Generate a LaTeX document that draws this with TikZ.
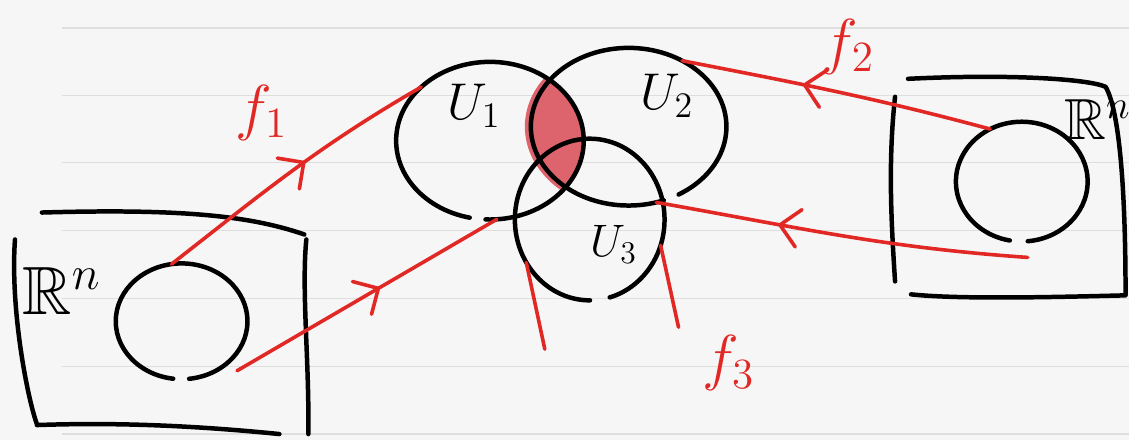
\documentclass[tikz,border=0pt]{standalone}
\usepackage{amsmath, amssymb}
\usepackage{xcolor}
\usepackage{tikz}
\usetikzlibrary{arrows.meta, shapes.geometric, decorations.markings, backgrounds}

\definecolor{mapred}{RGB}{226,40,36}
\definecolor{overlap}{RGB}{221,99,108}
\definecolor{paper}{RGB}{246,246,246}
\definecolor{ruling}{RGB}{222,222,222}

\begin{document}
\begin{tikzpicture}[x=1pt, y=1pt,
  ink/.style={line width=4.5pt, line cap=round, line join=round},
  blob/.style={ellipse, draw, ink, inner sep=0pt, outer sep=0pt},
  fmap/.style={draw=mapred, line width=3.6pt, line cap=round},
  midarrow/.style={postaction={decorate}, decoration={markings,
      mark=at position #1 with {\arrow[mapred]{Straight Barb[length=19pt, width=38pt, line width=3.6pt, round]}}}},
  lbl/.style={font=\huge, inner sep=0pt, scale=#1},
  lbl/.default=2.5,
]
  % charts and open sets
  \node[blob, minimum width=132pt, minimum height=116pt, dash pattern=on 284pt off 16pt on 200pt] (lball) at (182,119) {};
  \node[blob, minimum width=132pt, minimum height=120pt, dash pattern=on 285pt off 18pt on 200pt] (rball) at (1024,259) {};
  \node[blob, minimum width=188pt, minimum height=158pt, dash pattern=on 388pt off 16pt on 300pt] (U1) at (491,300) {};
  \node[blob, minimum width=196pt, minimum height=158pt, dash pattern=on 454pt off 16pt on 200pt] (U2) at (630,314) {};
  \node[blob, minimum width=150pt, minimum height=162pt, dash pattern=on 368pt off 20pt on 200pt] (U3) at (591,221) {};

  \node[lbl, anchor=base west]     (u1lbl) at (448,321) {$U_1$};
  \node[lbl, anchor=base west]     (u2lbl) at (641,331) {$U_2$};
  \node[lbl=2.2, anchor=base west] (u3lbl) at (591,184) {$U_3$};
  \node[lbl=3.3, anchor=base west] (rnl)   at (22,126)  {$\mathbb{R}^n$};
  \node[lbl=2.8, anchor=base west] (rnr)   at (1066,301) {$\mathbb{R}^n$};
  \node[lbl=3, text=mapred] (f1lbl) at (262,328) {$f_1$};
  \node[lbl=3, text=mapred] (f2lbl) at (850,394) {$f_2$};
  \node[lbl=3, text=mapred] (f3lbl) at (730,77)  {$f_3$};

  % left chart box
  \draw[ink] (42,228) .. controls (180,232) and (250,225) .. (305,206);
  \draw[ink] (307,201) .. controls (302,150) and (310,80) .. (309,6);
  \draw[ink] (15,201) .. controls (10,130) and (28,40) .. (37,16);
  \draw[ink] (37,15) .. controls (120,18) and (200,14) .. (280,6);
  % right chart box
  \draw[ink] (910,362) .. controls (1010,367) and (1090,362) .. (1108,354)
             .. controls (1122,330) and (1128,250) .. (1128,146);
  \draw[ink] (913,146) .. controls (960,141) and (1050,143) .. (1128,145);
  \draw[ink] (897,344) .. controls (890,280) and (893,220) .. (897,159);

  % maps
  \draw[fmap, midarrow=0.55] (lball.100) to[out=38, in=-150] (U1.142);
  \draw[fmap, midarrow=0.55] ([shift={(12pt,-6pt)}]lball.-45) -- (U1.-85);
  \draw[fmap, midarrow=0.61] (rball.121) to[out=165, in=-11] (U2.51);
  \draw[fmap, midarrow=0.67] ([shift={(6pt,-16pt)}]rball.south) to[out=176, in=-10] (U2.-70);
  \coordinate (f3a) at (546,91);
  \coordinate (f3b) at (680,113);
  \draw[fmap] (U3.-146) -- (f3a);
  \draw[fmap] (U3.-20) -- (f3b);

  \begin{scope}[on background layer]
    \fill[paper] (0,0) rectangle (1131,441);
    \foreach \yy in {6,74,142,210,278,345,413}
      \draw[ruling, line width=1.2pt] (62,\yy) -- (1131,\yy);
    \begin{scope}
      \clip (U1.center) ellipse [x radius=94pt, y radius=79pt];
      \fill[overlap] (U2.center) ellipse [x radius=104pt, y radius=84pt];
    \end{scope}
  \end{scope}
\end{tikzpicture}
\end{document}
